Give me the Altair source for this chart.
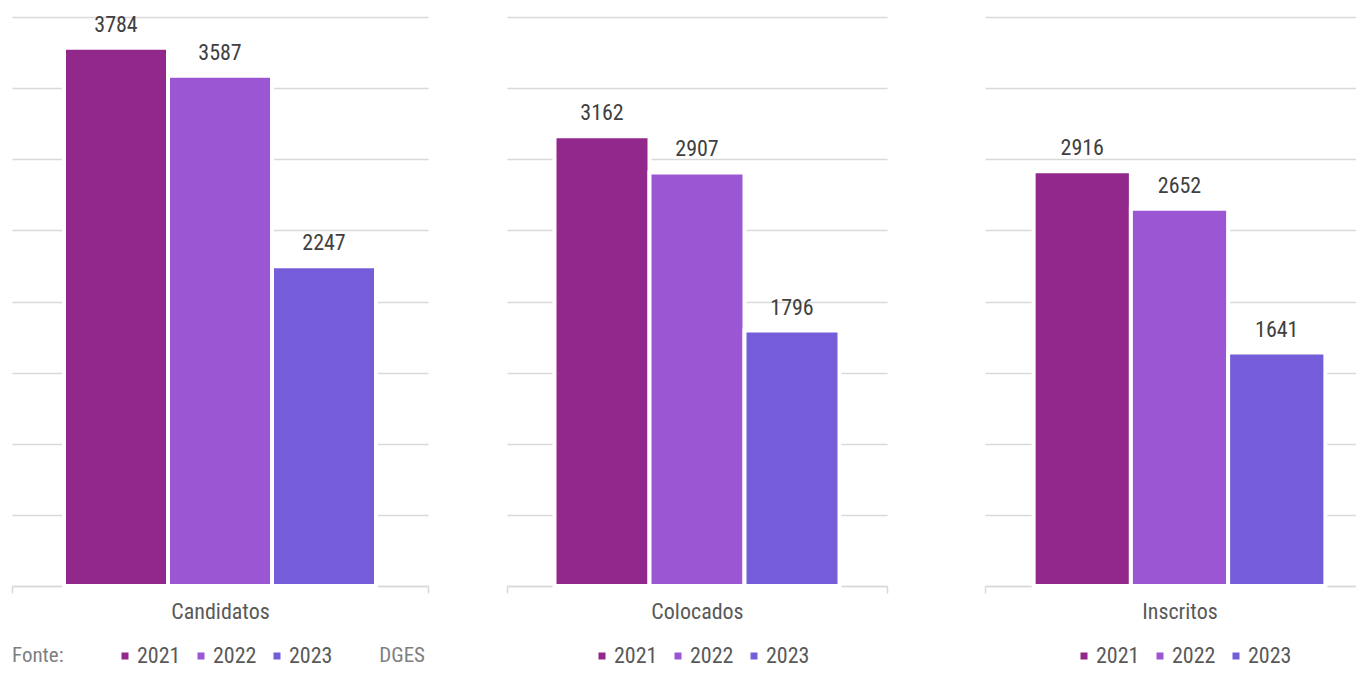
import altair as alt
import pandas as pd

categories = ["Candidatos", "Colocados", "Inscritos"]
years = ["2021", "2022", "2023"]
values_2021 = [3784, 3162, 2916]
values_2022 = [3587, 2907, 2652]
values_2023 = [2247, 1796, 1641]
colors = ["#92278c", "#9b57d3", "#755cd9"]
grid_values = [0, 500, 1000, 1500, 2000, 2500, 3000, 3500, 4000]

FONT = "Liberation Sans Narrow, Roboto Condensed, DejaVu Sans Condensed, Arial Narrow, sans-serif"

series = {"2021": values_2021, "2022": values_2022, "2023": values_2023}
rows = []
for i, c in enumerate(categories):
    for y in years:
        rows.append({"cat": c, "year": y, "value": series[y][i]})
df = pd.DataFrame(rows)

panel_widths = [416, 380, 389]
legend_x = [102, 84, 88]
H = 569
LEG_Y = 628


def panel(i):
    d = df[df["cat"] == categories[i]]
    base = alt.Chart(d).encode(
        x=alt.X(
            "cat:N",
            title=None,
            scale=alt.Scale(paddingInner=0, paddingOuter=0),
            axis=alt.Axis(
                labelFont=FONT, labelFontSize=22, labelColor="#595959",
                labelAngle=0, labelPadding=8,
                domainColor="#d9d9d9", domainWidth=1.5,
                tickColor="#d9d9d9", tickWidth=1.5, tickSize=7,
                tickBand="extent", grid=False,
            ),
        ),
        xOffset=alt.XOffset("year:N", scale=alt.Scale(paddingInner=0, paddingOuter=0.5)),
        y=alt.Y(
            "value:Q",
            title=None,
            scale=alt.Scale(domain=[0, 4000], nice=False),
            axis=alt.Axis(
                labels=False, ticks=False, domain=False, values=grid_values,
                gridColor="#d9d9d9", gridWidth=1.3,
            ),
        ),
    )
    bars = base.mark_bar(stroke="white", strokeWidth=4).encode(
        color=alt.Color(
            "year:N",
            scale=alt.Scale(domain=years, range=colors),
            legend=alt.Legend(
                title=None, orient="none", direction="horizontal",
                legendX=legend_x[i], legendY=LEG_Y, padding=0,
                symbolType="square", symbolSize=49, symbolStrokeWidth=0,
                labelFont=FONT, labelFontSize=22, labelColor="#595959",
                labelOffset=1, columnPadding=9,
            ),
        )
    )
    labels = base.mark_text(
        font=FONT, fontSize=22, color="#404040", baseline="alphabetic", dy=-16
    ).encode(text="value:Q")
    layers = [bars, labels]
    if i == 0:
        fonte = alt.Chart(pd.DataFrame({"t": ["Fonte:"]})).mark_text(
            font=FONT, fontSize=21, color="#7f7f7f", align="left", baseline="middle"
        ).encode(text="t:N", x=alt.value(0), y=alt.value(LEG_Y + 11))
        dges = alt.Chart(pd.DataFrame({"t": ["DGES"]})).mark_text(
            font=FONT, fontSize=21, color="#7f7f7f", align="right", baseline="middle"
        ).encode(text="t:N", x=alt.value(413), y=alt.value(LEG_Y + 11))
        layers += [fonte, dges]
    return alt.layer(*layers).properties(width=panel_widths[i], height=H)


inner = (
    alt.hconcat(panel(1), panel(2), spacing=96)
    .resolve_scale(x="independent", xOffset="independent")
    .resolve_legend(color="independent")
)
chart = (
    alt.hconcat(panel(0), inner, spacing=77)
    .resolve_scale(x="independent", xOffset="independent")
    .resolve_legend(color="independent")
    .properties(
        autosize=alt.AutoSizeParams(type="none"),
        padding={"left": 4, "top": 9, "right": 1344, "bottom": 647},
    )
    .configure_view(strokeWidth=0)
)

chart.save("out.html", embed_options={"renderer": "svg", "actions": False})
